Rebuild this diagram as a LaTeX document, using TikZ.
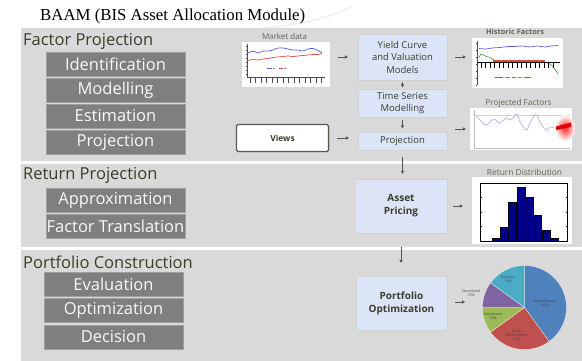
\documentclass[tikz,border=0pt]{standalone}
\usepackage{fontspec}
\setmainfont{Open Sans}
\newfontfamily\titlefont{Liberation Serif}
\usetikzlibrary{shadows,arrows.meta}

\definecolor{panelgray}{HTML}{D9D9D9}
\definecolor{stepgray}{HTML}{7F7F7F}
\definecolor{darkolive}{HTML}{3C3C2A}
\definecolor{flowblue}{HTML}{DCE5F7}
\definecolor{arrowgray}{HTML}{555555}
\definecolor{chartblue}{HTML}{5B5BD6}
\definecolor{chartred}{HTML}{E04848}
\definecolor{chartgreen}{HTML}{3A9A3A}
\definecolor{lavender}{HTML}{A9A9E8}
\definecolor{histnavy}{HTML}{00008B}
\definecolor{pieblue}{HTML}{4F81BD}
\definecolor{piered}{HTML}{C0504D}
\definecolor{piegreen}{HTML}{9BBB59}
\definecolor{piepurple}{HTML}{8064A2}
\definecolor{piecyan}{HTML}{4BACC6}

\tikzset{
  sectiontitle/.style={anchor=base west, text=darkolive,
    font=\fontsize{16.5}{18}\selectfont},
  stepbox/.style={fill=stepgray, draw=gray!75, line width=0.4pt,
    minimum width=139pt, minimum height=24pt, inner sep=0pt,
    text=white!95!gray, font=\fontsize{16.5}{17}\selectfont},
  flowbox/.style={fill=flowblue, draw=gray!35, line width=0.3pt,
    drop shadow={shadow xshift=1.2pt, shadow yshift=-1.2pt, fill=gray!70, opacity=0.8},
    align=center, inner sep=1pt, text=darkolive,
    font=\fontsize{9.5}{12.5}\selectfont},
  flowbold/.style={flowbox, font=\bfseries\fontsize{10}{13}\selectfont},
  viewsbox/.style={fill=white, draw=darkolive!85, line width=1.4pt, rounded corners=1.5pt,
    drop shadow={shadow xshift=1pt, shadow yshift=-1pt, fill=gray!60},
    minimum width=92pt, minimum height=27pt, inner sep=0pt, text=darkolive,
    font=\bfseries\fontsize{8.5}{10}\selectfont},
  chartframe/.style={fill=white, draw=none, inner sep=0pt},
  charttitle/.style={text=darkolive!80, inner sep=0pt, font=\fontsize{7}{8}\selectfont},
  flowarrow/.style={draw=arrowgray, line width=0.7pt,
    -{Triangle[length=3pt,width=3.2pt]}},
  pielabel/.style={text=black!75, inner sep=0pt, align=center,
    font=\fontsize{3.6}{4.2}\selectfont},
}

\begin{document}
\begin{tikzpicture}[x=1pt,y=-1pt]
\useasboundingbox (0,0) rectangle (582,361);
\fill[white] (0,0) rectangle (582,361);

% faint swoosh beside the heading
\draw[gray!12, line width=1.6pt] (262,28) .. controls (300,25) and (330,18) .. (352,6);

% heading
\node[anchor=base west, inner sep=0pt, font=\titlefont\fontsize{16.8}{18}\selectfont]
  (title) at (40,21) {BAAM (BIS Asset Allocation Module)};

% three stage panels
\fill[panelgray] (21,28) rectangle (582,161);
\fill[panelgray] (21,164) rectangle (582,246.5);
\fill[panelgray] (21,250) rectangle (582,361);

% stage titles
\node[sectiontitle, inner sep=0pt] (fptitle) at (23,45.5) {Factor Projection};
\node[sectiontitle, inner sep=0pt] (rptitle) at (23,179) {Return Projection};
\node[sectiontitle, inner sep=0pt] (pctitle) at (23,268) {Portfolio Construction};

% stage steps
\node[stepbox] (ident) at (115.5,64)  {Identification};
\node[stepbox] (model) at (115.5,90)  {Modelling};
\node[stepbox] (estim) at (115.5,116) {Estimation};
\node[stepbox] (projs) at (115.5,142) {Projection};
\node[stepbox] (approx) at (115.5,200) {Approximation};
\node[stepbox] (ftrans) at (115.5,226) {Factor Translation};
\node[stepbox] (evalu) at (113.5,284) {Evaluation};
\node[stepbox] (optim) at (113.5,310) {Optimization};
\node[stepbox] (decis) at (113.5,337) {Decision};

% process boxes
\node[flowbox, minimum width=89pt, minimum height=46pt] (ycv) at (402.5,57)
  {Yield Curve\\and Valuation\\Models};
\node[flowbox, minimum width=89pt, minimum height=28pt] (tsm) at (402.5,103)
  {Time Series\\Modelling};
\node[flowbox, minimum width=89pt, minimum height=18pt] (proj) at (402.5,141)
  {Projection};
\node[viewsbox] (views) at (282.5,138) {Views};
\node[flowbold, minimum width=92pt, minimum height=54pt] (asset) at (401,206)
  {Asset\\Pricing};
\node[flowbold, minimum width=91pt, minimum height=54pt] (port) at (401.5,303)
  {Portfolio\\Optimization};

% ---------- market data chart ----------
\node[chartframe, minimum width=88pt, minimum height=45pt] (mkt) at (286,64.5) {};
\node[charttitle, font=\fontsize{8}{9}\selectfont] (mkttitle) at (284.5,36.5) {Market data};
\draw[gray!60!black, line width=0.4pt] (247,44) -- (247,77) -- (325,77);
\foreach \yy in {46,50,...,74} \draw[gray!60!black, line width=0.4pt] (245.5,\yy) -- (247,\yy);
\foreach \xx in {250,255.5,...,324} \draw[black!70, line width=0.8pt] (\xx,78.5) -- (\xx,83);
\draw[chartblue, line width=0.7pt] plot[smooth] coordinates {(248,53) (253,51) (258,53) (263,51) (268,51) (273,50) (278,48) (283,48) (288,49) (293,50) (298,50) (303,51) (308,49) (313,48.5) (318,50.5) (322,53)};
\draw[chartred, line width=0.7pt] plot[smooth] coordinates {(248,60.5) (253,59.5) (258,60) (263,59) (268,58.5) (273,57.5) (278,57) (283,56.5) (288,56) (293,56.5) (298,56) (303,55.5) (308,55) (313,54.5) (318,54.5) (322,53.5)};
\draw[chartblue, line width=0.6pt] (267,68) -- (272,68);
\draw[gray, line width=0.6pt] (272.5,68) -- (275,68);
\draw[chartred, line width=0.6pt] (279,68) -- (283,68);
\draw[gray, line width=0.6pt] (283.5,68) -- (286,68);

% ---------- historic factors chart ----------
\node[chartframe, minimum width=91pt, minimum height=50pt] (hist) at (517.5,63) {};
\node[charttitle, font=\bfseries\fontsize{7.4}{8}\selectfont] (histtitle) at (515,32) {Historic Factors};
\draw[gray!60!black, line width=0.4pt] (477,41) -- (477,85);
\foreach \yy in {43,50,...,85} \draw[gray!60!black, line width=0.4pt] (475.5,\yy) -- (477,\yy);
\draw[chartblue, line width=0.7pt] plot[smooth] coordinates {(479,48.5) (486,49) (492,48) (500,47.5) (508,46.5) (515,46.5) (522,46) (530,47) (537,46) (545,47) (551,46) (558,45.5)};
\draw[chartgreen, line width=0.6pt] plot[smooth] coordinates {(479,58) (481,54) (485,56) (489,57) (494,60) (500,63) (506,61) (512,62) (520,61) (528,62) (536,61) (544,62) (550,64) (554,68) (558,74)};
\draw[chartred, line width=1.6pt] (493,60.8) -- (545,60.8);
\draw[black, line width=0.8pt] (477,62.5) -- (560,62.5);
\foreach \xx in {481,485.5,...,557} \draw[black, line width=0.5pt] (\xx,62.5) -- (\xx,68);
\draw[chartblue, line width=0.5pt] (495,77) -- (503,77);
\draw[gray, line width=0.5pt] (505,77) -- (510,77);
\draw[chartred, line width=0.5pt] (512,77) -- (516,77);
\draw[gray, line width=0.5pt] (518,77) -- (522,77);
\draw[chartgreen, line width=0.5pt] (524,77) -- (531,77);

% ---------- projected factors chart ----------
\node[chartframe, minimum width=102pt, minimum height=42pt] (pfac) at (521,129) {};
\node[charttitle, font=\fontsize{8.2}{9}\selectfont] (pfactitle) at (518.5,103) {Projected Factors};
\draw[gray!50, line width=0.3pt] (474,110) -- (474,148) -- (570,148);
\draw[gray!35, line width=0.3pt] (474,115) -- (570,115);
\foreach \xx in {480,490,...,560} \draw[gray!50, line width=0.3pt] (\xx,148) -- (\xx,149.5);
\shade[inner color=red!85, outer color=white] (565,128) ellipse[x radius=10pt, y radius=13pt];
\draw[lavender, line width=0.6pt] plot[smooth] coordinates {(475,115) (480,120) (485,125) (489,123) (494,119) (499,123) (502,121) (507,118) (510,120) (514,117) (517,114) (520,122) (524,128) (527,130) (530,123) (534,116) (537,115) (540,122) (544,128) (547,130) (550,127) (554,128)};
\fill[red!90!black] (556,126.5) -- (571,122.5) -- (571,127) -- (556,130) -- cycle;

% ---------- return distribution chart ----------
\node[chartframe, minimum width=100pt, minimum height=67pt] (rdist) at (522,210.5) {};
\node[charttitle, font=\fontsize{8.4}{9}\selectfont] (rdisttitle) at (524.5,172.5) {Return Distribution};
\foreach \x/\h in {491.7/3.3, 500/14.3, 508.3/39.3, 516.7/54.3, 525/44.3, 533.3/26, 541.7/11, 550/3.3}
  \filldraw[fill=histnavy, draw=black, line width=0.3pt] (\x,241) rectangle ++(8.33,-\h);
\draw[black, line width=0.4pt] (480,183) rectangle (567,241);
\foreach \xx in {491.7,508.3,525,541.7,558.3} {
  \draw[black, line width=0.3pt] (\xx,241) -- (\xx,239.5);
  \draw[black, line width=0.3pt] (\xx,183) -- (\xx,184.5);}
\foreach \yy in {197.5,212,226.5} {
  \draw[black, line width=0.3pt] (480,\yy) -- (481.5,\yy);
  \draw[black, line width=0.3pt] (567,\yy) -- (565.5,\yy);}

% ---------- allocation pie ----------
\coordinate (piec) at (524.5,307.5);
\begin{scope}[shift={(524.5,307.5)}, yscale=-1]
  \filldraw[fill=pieblue, draw=white, line width=0.2pt] (0,0) -- (90:42) arc[start angle=90, end angle=-54, radius=42] -- cycle;
  \filldraw[fill=piered, draw=white, line width=0.2pt] (0,0) -- (-54:42) arc[start angle=-54, end angle=-144, radius=42] -- cycle;
  \filldraw[fill=piegreen, draw=white, line width=0.2pt] (0,0) -- (-144:42) arc[start angle=-144, end angle=-180, radius=42] -- cycle;
  \filldraw[fill=piepurple, draw=white, line width=0.2pt] (0,0) -- (180:42) arc[start angle=180, end angle=144, radius=42] -- cycle;
  \filldraw[fill=piecyan, draw=white, line width=0.2pt] (0,0) -- (144:42) arc[start angle=144, end angle=90, radius=42] -- cycle;
\end{scope}
\node[pielabel] (lgov) at (545,303) {Governments\\40\%};
\node[pielabel] (lquasi) at (517,335) {Quasi\\Governments\\25\%};
\node[pielabel] (lcorp) at (493,316) {Corporates\\10\%};
\node[pielabel] (lequ) at (508,279) {Equities\\15\%};
\node[pielabel] (lsec) at (471,293) {Securitized\\10\%};
\coordinate (piein) at (467,302);

% ---------- flow arrows ----------
\draw[flowarrow, shorten <=8pt, shorten >=10pt] (mkt.east |- ycv.west) -- (ycv.west);
\draw[flowarrow, shorten <=8pt, shorten >=6pt] (ycv.east) -- (hist.west |- ycv.east);
\draw[flowarrow, shorten <=1.5pt, shorten >=1.5pt] (ycv.south) -- (tsm.north);
\draw[flowarrow, shorten <=3pt, shorten >=3.5pt] (tsm.south) -- (proj.north);
\draw[flowarrow, shorten <=8pt, shorten >=9pt] (views.east) -- (proj.west |- views.east);
\draw[flowarrow, shorten <=8pt, shorten >=4pt] (proj.east |- pfac.west) -- (pfac.west);
\draw[flowarrow, shorten <=7pt, shorten >=5pt] (proj.south) -- (proj.south |- asset.north);
\draw[flowarrow, shorten <=6pt, shorten >=9pt] (asset.east) -- (rdist.west |- asset.east);
\draw[flowarrow, shorten <=14pt, shorten >=13pt] (asset.south) -- (asset.south |- port.north);
\draw[flowarrow, shorten <=8pt, shorten >=2pt] (port.east |- piein) -- (piein);
\end{tikzpicture}
\end{document}
